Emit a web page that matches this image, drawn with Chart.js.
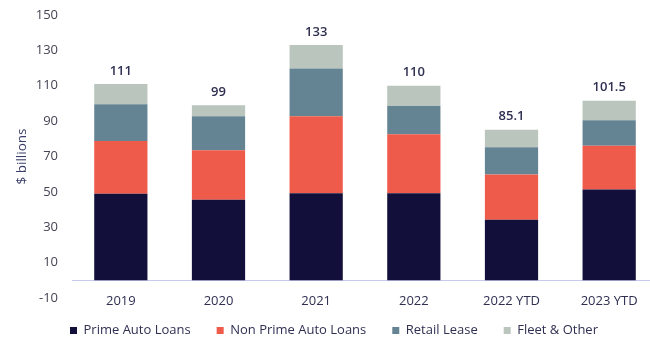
<!DOCTYPE html>
<html>
<head>
<meta charset="utf-8">
<script src="https://cdn.jsdelivr.net/npm/chart.js@4.4.0/dist/chart.umd.min.js"></script>
<style>
    html, body { margin: 0; padding: 0; background: #fff; overflow: hidden; }
    #wrap { width: 658px; height: 338px; }
</style>
</head>
<body>
<div id="wrap"><canvas id="loans"></canvas></div>
<script>
var years = ["2019", "2020", "2021", "2022", "2022 YTD", "2023 YTD"];
var primeAuto = [49, 45.5, 49.2, 49.2, 34.3, 51.3];
var nonPrimeAuto = [29.8, 28, 43.6, 33.4, 25.5, 24.8];
var retailLease = [20.7, 19.3, 26.9, 15.9, 15.5, 14.4];
var fleetOther = [11.5, 6.2, 13.3, 11.5, 9.8, 11];
var totals = ["111", "99", "133", "110", "85.1", "101.5"];

var fontName = "'Open Sans', sans-serif";

// line at zero + the total above each stack
var extras = {
    id: "extras",
    beforeDatasetsDraw: function(chart) {
        var ctx = chart.ctx;
        var y = Math.round(chart.scales.y.getPixelForValue(0)) + 0.5;
        ctx.save();
        ctx.strokeStyle = "#c9c9ef";
        ctx.lineWidth = 1;
        ctx.beginPath();
        ctx.moveTo(chart.chartArea.left, y);
        ctx.lineTo(chart.chartArea.right, y);
        ctx.stroke();
        ctx.restore();
    },
    afterDatasetsDraw: function(chart) {
        var ctx = chart.ctx;
        var top = chart.getDatasetMeta(chart.data.datasets.length - 1);
        ctx.save();
        ctx.font = "600 13px " + fontName;
        ctx.fillStyle = "#2f2f52";
        ctx.textAlign = "center";
        ctx.textBaseline = "middle";
        top.data.forEach(function(bar, i) {
            ctx.fillText(totals[i], bar.x, bar.y - 13);
        });
        ctx.restore();
    }
};

new Chart(document.getElementById("loans").getContext("2d"), {
    type: "bar",
    data: {
        labels: years,
        datasets: [
            { label: "Prime Auto Loans", data: primeAuto, backgroundColor: "#120f3a" },
            { label: "Non Prime Auto Loans", data: nonPrimeAuto, backgroundColor: "#ef5b4b" },
            { label: "Retail Lease", data: retailLease, backgroundColor: "#648493" },
            { label: "Fleet & Other", data: fleetOther, backgroundColor: "#b9c5bd" }
        ]
    },
    options: {
        responsive: true,
        maintainAspectRatio: false,
        animation: false,
        barPercentage: 0.545,
        categoryPercentage: 1,
        layout: { padding: { top: 15, left: 10, right: 0, bottom: -9 } },
        plugins: {
            legend: {
                position: "bottom",
                labels: {
                    boxWidth: 7,
                    boxHeight: 7,
                    padding: 26,
                    color: "#2f2f52",
                    font: { family: fontName, size: 13 }
                }
            },
            tooltip: { enabled: false }
        },
        scales: {
            x: {
                stacked: true,
                grid: { display: false, drawTicks: false },
                border: { display: false },
                ticks: {
                    // mirrored so the labels are not clipped to the zero-height axis box
                    mirror: true,
                    padding: -11,
                    color: "#2f2f52",
                    font: { family: fontName, size: 13 }
                },
                afterFit: function(scale) {
                    scale.height = 0;
                }
            },
            y: {
                stacked: true,
                min: -10,
                max: 150,
                grid: { display: false, drawTicks: false },
                border: { display: false },
                ticks: {
                    stepSize: 20,
                    padding: 14,
                    color: "#444454",
                    font: { family: fontName, size: 13 }
                },
                title: {
                    display: true,
                    text: "$ billions",
                    color: "#3b3f6b",
                    font: { family: fontName, size: 13.5 }
                },
                afterFit: function(scale) {
                    scale.width = 62;
                    scale.paddingTop = 0;
                    scale.paddingBottom = 0;
                }
            }
        }
    },
    plugins: [extras]
});
</script>
</body>
</html>
